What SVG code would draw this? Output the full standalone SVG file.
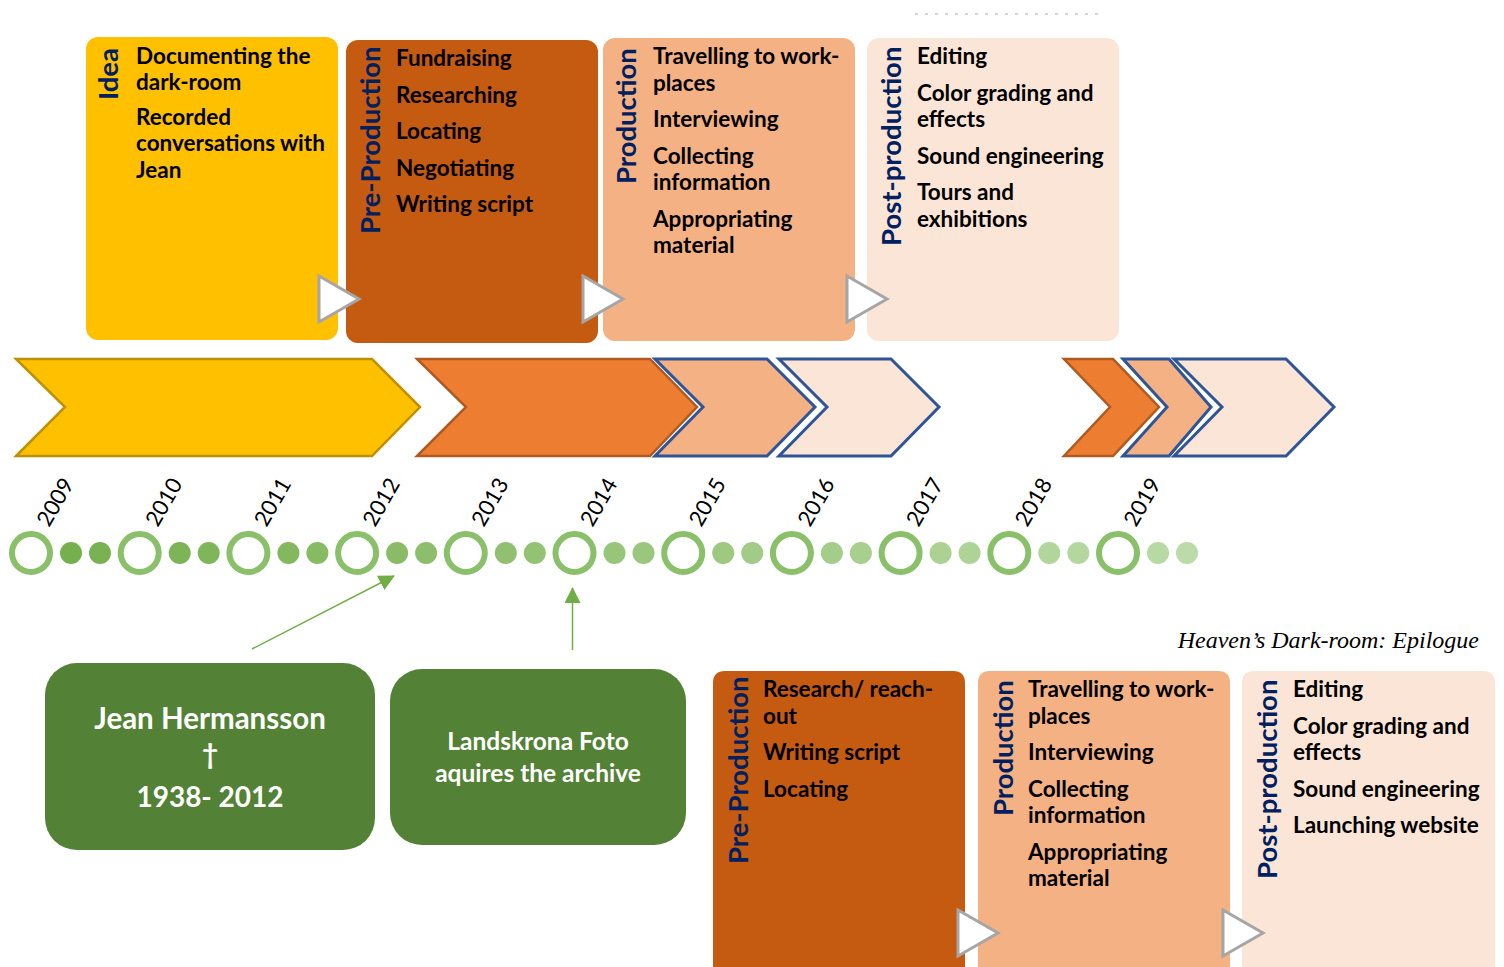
<svg xmlns="http://www.w3.org/2000/svg" width="1504" height="967" viewBox="0 0 1504 967">
  <defs>
    <style>
      .item { font-family: Lato, "Open Sans", sans-serif; font-weight: 700; font-size: 22.5px; fill: #000; }
      .phase { font-family: Lato, "Open Sans", sans-serif; font-weight: 700; font-size: 27.5px; fill: #002060; }
      .year { font-family: Lato, "Open Sans", sans-serif; font-size: 22px; fill: #000; }
      .event { font-family: Lato, "Open Sans", sans-serif; font-weight: 700; fill: #fff; text-anchor: middle; }
      .step { fill: #fff; stroke: #A6A6A6; stroke-width: 3; }
      .ring { fill: none; stroke: #8BC06A; stroke-width: 6; }
      .blue { stroke: #2F5597; stroke-width: 3; }
      .conn { stroke: #70AD47; stroke-width: 1.5; fill: none; }
    </style>
    <marker id="arrowGreenBig" viewBox="0 0 16 16" refX="15" refY="8" markerWidth="16" markerHeight="16" markerUnits="userSpaceOnUse" orient="auto">
      <path d="M0,0 L16,8 L0,16 Z" fill="#70AD47"/>
    </marker>
  </defs>

  <rect width="1504" height="967" fill="#fff"/>

  <!-- clipped text line at the very top -->
  <line x1="915" y1="14" x2="1098" y2="14" stroke="#C8C8C8" stroke-width="1.5" stroke-dasharray="3 7"/>

  <!-- top process: idea to post-production -->
  <g id="top-idea">
    <rect x="86" y="37" width="252" height="303" rx="12" fill="#FFC000"/>
    <text class="phase" transform="translate(118,100) rotate(-90)" font-size="29">Idea</text>
    <text class="item" x="136" y="64">Documenting the</text>
    <text class="item" x="136" y="90">dark-room</text>
    <text class="item" x="136" y="125">Recorded</text>
    <text class="item" x="136" y="151">conversations with</text>
    <text class="item" x="136" y="178">Jean</text>
  </g>
  <g id="top-preproduction">
    <rect x="346" y="40" width="252" height="303" rx="12" fill="#C55A11"/>
    <text class="phase" transform="translate(380,234) rotate(-90)">Pre-Production</text>
    <text class="item" x="396" y="66">Fundraising</text>
    <text class="item" x="396" y="103">Researching</text>
    <text class="item" x="396" y="139">Locating</text>
    <text class="item" x="396" y="176">Negotiating</text>
    <text class="item" x="396" y="212">Writing script</text>
  </g>
  <g id="top-production">
    <rect x="603" y="38" width="252" height="303" rx="12" fill="#F4B183"/>
    <text class="phase" transform="translate(636,184) rotate(-90)">Production</text>
    <text class="item" x="653" y="64">Travelling to work-</text>
    <text class="item" x="653" y="91">places</text>
    <text class="item" x="653" y="127">Interviewing</text>
    <text class="item" x="653" y="164">Collecting</text>
    <text class="item" x="653" y="190">information</text>
    <text class="item" x="653" y="227">Appropriating</text>
    <text class="item" x="653" y="253">material</text>
  </g>
  <g id="top-postproduction">
    <rect x="867" y="38" width="252" height="303" rx="12" fill="#FBE5D6"/>
    <text class="phase" transform="translate(901,246) rotate(-90)">Post-production</text>
    <text class="item" x="917" y="64">Editing</text>
    <text class="item" x="917" y="101">Color grading and</text>
    <text class="item" x="917" y="127">effects</text>
    <text class="item" x="917" y="164">Sound engineering</text>
    <text class="item" x="917" y="200">Tours and</text>
    <text class="item" x="917" y="227">exhibitions</text>
  </g>
  <g id="top-steps">
    <polygon class="step" points="319,276 359,299 319,322"/>
    <polygon class="step" points="583,276 623,299 583,322"/>
    <polygon class="step" points="847,276 887,299 847,322"/>
  </g>

  <!-- phase chevrons -->
  <g id="chevrons">
    <polygon points="16,359 372,359 420,407 372,456 16,456 65,407" fill="#FFC000" stroke="#BF9000" stroke-width="2.5"/>
    <polygon points="417,359 650,359 697,407 650,456 417,456 466,407" fill="#ED7D31" stroke="#AE5A21" stroke-width="2.5"/>
    <polygon class="blue" points="655,359 767,359 815,407 767,456 655,456 703,407" fill="#F4B183"/>
    <polygon class="blue" points="779,359 891,359 939,407 891,456 779,456 827,407" fill="#FBE5D6"/>
    <polygon points="1064,359 1113,359 1159,407 1113,456 1064,456 1110,407" fill="#ED7D31" stroke="#AE5A21" stroke-width="2.5"/>
    <polygon class="blue" points="1123,359 1169,359 1211,407 1169,456 1123,456 1167,407" fill="#F4B183"/>
    <polygon class="blue" points="1174,359 1286,359 1334,407 1286,456 1174,456 1222,407" fill="#FBE5D6"/>
  </g>

  <!-- year axis -->
  <g id="years">
    <text class="year" transform="translate(49,528) rotate(-60)">2009</text>
    <text class="year" transform="translate(157.7,528) rotate(-60)">2010</text>
    <text class="year" transform="translate(266.4,528) rotate(-60)">2011</text>
    <text class="year" transform="translate(375.1,528) rotate(-60)">2012</text>
    <text class="year" transform="translate(483.8,528) rotate(-60)">2013</text>
    <text class="year" transform="translate(592.5,528) rotate(-60)">2014</text>
    <text class="year" transform="translate(701.2,528) rotate(-60)">2015</text>
    <text class="year" transform="translate(809.9,528) rotate(-60)">2016</text>
    <text class="year" transform="translate(918.6,528) rotate(-60)">2017</text>
    <text class="year" transform="translate(1027.3,528) rotate(-60)">2018</text>
    <text class="year" transform="translate(1136,528) rotate(-60)">2019</text>
  </g>
  <g id="axis">
    <circle class="ring" cx="31" cy="553" r="19"/>
    <circle class="ring" cx="139.7" cy="553" r="19"/>
    <circle class="ring" cx="248.4" cy="553" r="19"/>
    <circle class="ring" cx="357.1" cy="553" r="19"/>
    <circle class="ring" cx="465.8" cy="553" r="19"/>
    <circle class="ring" cx="574.5" cy="553" r="19"/>
    <circle class="ring" cx="683.2" cy="553" r="19"/>
    <circle class="ring" cx="791.9" cy="553" r="19"/>
    <circle class="ring" cx="900.6" cy="553" r="19"/>
    <circle class="ring" cx="1009.3" cy="553" r="19"/>
    <circle class="ring" cx="1118" cy="553" r="19"/>
    <circle cx="71" cy="553" r="11" fill="#76B04E"/>
    <circle cx="100" cy="553" r="11" fill="#79B252"/>
    <circle cx="179.7" cy="553" r="11" fill="#7DB457"/>
    <circle cx="208.7" cy="553" r="11" fill="#80B65B"/>
    <circle cx="288.4" cy="553" r="11" fill="#83B85F"/>
    <circle cx="317.4" cy="553" r="11" fill="#86BA63"/>
    <circle cx="397.1" cy="553" r="11" fill="#8ABC68"/>
    <circle cx="426.1" cy="553" r="11" fill="#8DBE6C"/>
    <circle cx="505.8" cy="553" r="11" fill="#90C070"/>
    <circle cx="534.8" cy="553" r="11" fill="#94C275"/>
    <circle cx="614.5" cy="553" r="11" fill="#97C579"/>
    <circle cx="643.5" cy="553" r="11" fill="#9AC77D"/>
    <circle cx="723.2" cy="553" r="11" fill="#9DC981"/>
    <circle cx="752.2" cy="553" r="11" fill="#A1CB86"/>
    <circle cx="831.9" cy="553" r="11" fill="#A4CD8A"/>
    <circle cx="860.9" cy="553" r="11" fill="#A7CF8E"/>
    <circle cx="940.6" cy="553" r="11" fill="#ABD193"/>
    <circle cx="969.6" cy="553" r="11" fill="#AED397"/>
    <circle cx="1049.3" cy="553" r="11" fill="#B1D59B"/>
    <circle cx="1078.3" cy="553" r="11" fill="#B4D79F"/>
    <circle cx="1158" cy="553" r="11" fill="#B8D9A4"/>
    <circle cx="1187" cy="553" r="11" fill="#BBDBA8"/>
  </g>

  <!-- event markers -->
  <g id="connectors">
    <line class="conn" x1="252" y1="649" x2="394" y2="576" marker-end="url(#arrowGreenBig)"/>
    <line class="conn" x1="572.5" y1="650" x2="572.5" y2="588" marker-end="url(#arrowGreenBig)"/>
  </g>

  <g id="event-jean">
    <rect x="45" y="663" width="330" height="187" rx="32" fill="#538135"/>
    <text class="event" x="210" y="729" font-size="29.5">Jean Hermansson</text>
    <text class="event" x="210" y="764" font-size="28">†</text>
    <text class="event" x="210" y="807" font-size="28">1938- 2012</text>
  </g>
  <g id="event-archive">
    <rect x="390" y="669" width="296" height="176" rx="32" fill="#538135"/>
    <text class="event" x="538" y="750" font-size="24.5">Landskrona Foto</text>
    <text class="event" x="538" y="782" font-size="24.5">aquires the archive</text>
  </g>

  <text x="1479" y="648" text-anchor="end" font-family="'Liberation Serif', serif" font-style="italic" font-size="24" fill="#000">Heaven’s Dark-room: Epilogue</text>

  <!-- epilogue process -->
  <g id="epilogue-preproduction">
    <path d="M713,967 V683 Q713,671 725,671 H953 Q965,671 965,683 V967 Z" fill="#C55A11"/>
    <text class="phase" transform="translate(748,864) rotate(-90)">Pre-Production</text>
    <text class="item" x="763" y="697">Research/ reach-</text>
    <text class="item" x="763" y="724">out</text>
    <text class="item" x="763" y="760">Writing script</text>
    <text class="item" x="763" y="797">Locating</text>
  </g>
  <g id="epilogue-production">
    <path d="M978,967 V683 Q978,671 990,671 H1218 Q1230,671 1230,683 V967 Z" fill="#F4B183"/>
    <text class="phase" transform="translate(1013,816) rotate(-90)">Production</text>
    <text class="item" x="1028" y="697">Travelling to work-</text>
    <text class="item" x="1028" y="724">places</text>
    <text class="item" x="1028" y="760">Interviewing</text>
    <text class="item" x="1028" y="797">Collecting</text>
    <text class="item" x="1028" y="823">information</text>
    <text class="item" x="1028" y="860">Appropriating</text>
    <text class="item" x="1028" y="886">material</text>
  </g>
  <g id="epilogue-postproduction">
    <path d="M1242,967 V683 Q1242,671 1254,671 H1483 Q1495,671 1495,683 V967 Z" fill="#FBE5D6"/>
    <text class="phase" transform="translate(1277,879) rotate(-90)">Post-production</text>
    <text class="item" x="1293" y="697">Editing</text>
    <text class="item" x="1293" y="734">Color grading and</text>
    <text class="item" x="1293" y="760">effects</text>
    <text class="item" x="1293" y="797">Sound engineering</text>
    <text class="item" x="1293" y="833">Launching website</text>
  </g>
  <g id="epilogue-steps">
    <polygon class="step" points="958,910 998,933 958,956"/>
    <polygon class="step" points="1223,910 1263,933 1223,956"/>
  </g>
</svg>
